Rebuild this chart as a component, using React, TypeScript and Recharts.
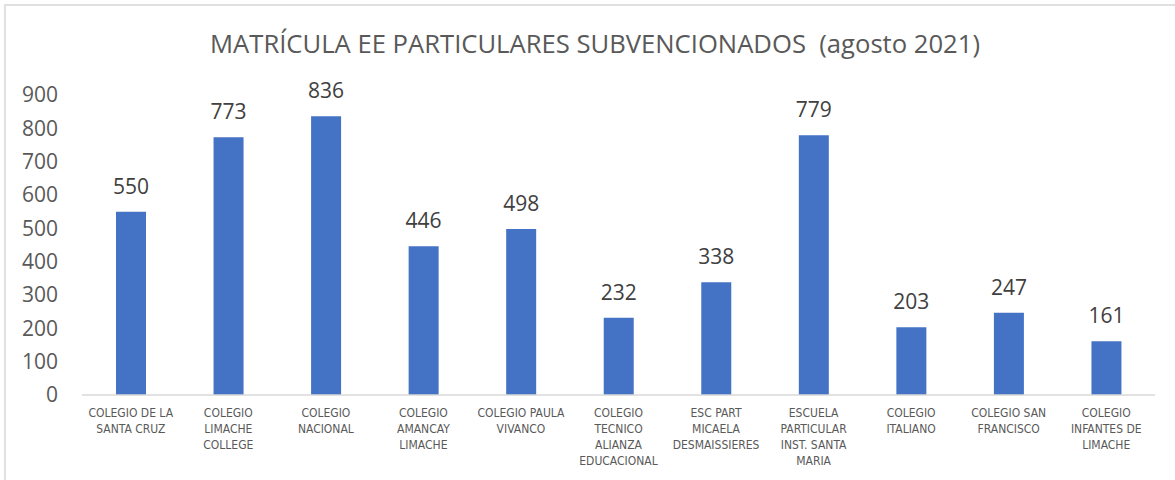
import React from 'react';
import { BarChart, Bar, XAxis, YAxis, LabelList } from 'recharts';

const title = 'MATRÍCULA EE PARTICULARES SUBVENCIONADOS  (agosto 2021)';

const categories = [
  'COLEGIO DE LA\nSANTA CRUZ',
  'COLEGIO\nLIMACHE\nCOLLEGE',
  'COLEGIO\nNACIONAL',
  'COLEGIO\nAMANCAY\nLIMACHE',
  'COLEGIO PAULA\nVIVANCO',
  'COLEGIO\nTECNICO\nALIANZA\nEDUCACIONAL',
  'ESC PART\nMICAELA\nDESMAISSIERES',
  'ESCUELA\nPARTICULAR\nINST. SANTA\nMARIA',
  'COLEGIO\nITALIANO',
  'COLEGIO SAN\nFRANCISCO',
  'COLEGIO\nINFANTES DE\nLIMACHE',
];

const values = [550, 773, 836, 446, 498, 232, 338, 779, 203, 247, 161];

const yTicks = [0, 100, 200, 300, 400, 500, 600, 700, 800, 900];

const data = categories.map((name, i) => ({ name, value: values[i] }));

const NARROW = "'Liberation Sans Narrow', 'DejaVu Sans Condensed', 'Open Sans', sans-serif";
const MAIN = "'Open Sans', 'Noto Sans', sans-serif";

const CategoryTick = (props: any) => {
  const { x, y, payload } = props;
  const lines = String(payload.value).split('\n');
  return (
    <text x={x} y={y} textAnchor="middle" fill="#595959" fontSize={12} fontFamily={NARROW}>
      {lines.map((l, i) => (
        <tspan key={i} x={x} dy={i === 0 ? 22 : 16}>
          {l}
        </tspan>
      ))}
    </text>
  );
};

export default function App() {
  return (
    <div
      style={{
        position: 'absolute',
        left: 0,
        top: 0,
        width: 1175,
        height: 480,
        background: '#ffffff',
        overflow: 'hidden',
      }}
    >
      <div
        style={{
          position: 'absolute',
          left: 4,
          top: 4,
          right: -10,
          bottom: -10,
          borderLeft: '2px solid #E0E0E0',
          borderTop: '2px solid #E0E0E0',
        }}
      />
      <svg
        width={1175}
        height={80}
        style={{ position: 'absolute', left: 0, top: 0 }}
      >
        <text
          x={595}
          y={53}
          textAnchor="middle"
          fill="#595959"
          fontSize={25}
          fontFamily={MAIN}
          textLength={770}
          lengthAdjust="spacingAndGlyphs"
          style={{ whiteSpace: 'pre' }}
        >
          {title}
        </text>
      </svg>
      <div style={{ position: 'absolute', left: 0, top: 0 }}>
        <BarChart
          width={1175}
          height={480}
          data={data}
          margin={{ top: 95, right: 20, bottom: 10, left: 0 }}
        >
          <YAxis
            width={82}
            domain={[0, 900]}
            ticks={yTicks}
            interval={0}
            axisLine={false}
            tickLine={false}
            tickSize={0}
            tickMargin={24}
            tick={{ fill: '#595959', fontSize: 21, fontFamily: MAIN }}
          />
          <XAxis
            dataKey="name"
            height={75}
            interval={0}
            axisLine={{ stroke: '#D9D9D9', strokeWidth: 1.5 }}
            tickLine={false}
            tickSize={0}
            tickMargin={0}
            tick={<CategoryTick />}
          />
          <Bar dataKey="value" fill="#4472C4" barSize={30} isAnimationActive={false}>
            <LabelList
              dataKey="value"
              position="top"
              offset={18}
              fill="#404040"
              fontSize={21}
              fontFamily={MAIN}
            />
          </Bar>
        </BarChart>
      </div>
    </div>
  );
}
